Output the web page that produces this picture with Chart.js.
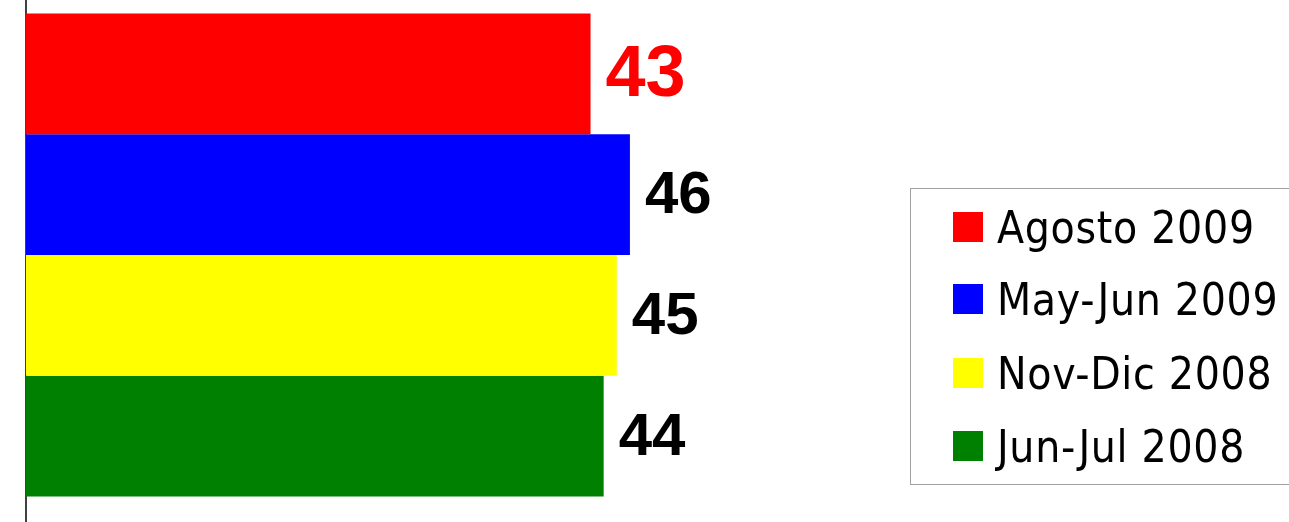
<!DOCTYPE html>
<html>
<head>
<meta charset="utf-8">
<script src="https://cdn.jsdelivr.net/npm/chart.js@4/dist/chart.umd.min.js"></script>
<style>
  html, body { margin: 0; padding: 0; background: #fff; overflow: hidden; }
  #wrap { position: relative; width: 1289px; height: 522px; overflow: hidden; }
  #chart-area { position: absolute; left: 0; top: -12px; }
  #legend {
    position: absolute; left: 910px; top: 188px; width: 420px; height: 297px;
    border: 1px solid #a0a0a0; box-sizing: border-box;
    font-family: 'DejaVu Sans Condensed', 'DejaVu Sans', sans-serif; font-stretch: condensed;
    font-size: 44px; letter-spacing: 0.7px; color: #000;
  }
  #legend .row { position: absolute; left: 42px; height: 30px; display: flex; align-items: center; white-space: nowrap; }
  #legend .box { width: 30px; height: 30px; margin-right: 14px; flex: none; }
</style>
</head>
<body>
<div id="wrap">
  <canvas id="chart-area" width="1289" height="534"></canvas>
  <div id="legend"></div>
</div>
<script>
var periods = ['Agosto 2009', 'May-Jun 2009', 'Nov-Dic 2008', 'Jun-Jul 2008'];
var values = [43, 46, 45, 44];
var colors = ['#ff0000', '#0000ff', '#ffff00', '#008000'];
var labelColors = ['#ff0000', '#000000', '#000000', '#000000'];
var labelSizes = [72, 60, 60, 60];

// value labels at the end of each bar
var valueLabels = {
  id: 'valueLabels',
  afterDatasetsDraw: function(chart) {
    var ctx = chart.ctx;
    ctx.save();
    chart.data.datasets.forEach(function(ds, i) {
      var bar = chart.getDatasetMeta(i).data[0];
      ctx.font = 'bold ' + labelSizes[i] + 'px "Liberation Sans", Arial, sans-serif';
      ctx.fillStyle = labelColors[i];
      ctx.textAlign = 'left';
      ctx.textBaseline = 'middle';
      ctx.fillText(String(ds.data[0]), bar.x + 15, bar.y + 2);
    });
    ctx.restore();
  }
};

var config = {
  type: 'bar',
  data: {
    labels: [''],
    datasets: periods.map(function(p, i) {
      return {
        label: p,
        data: [values[i]],
        backgroundColor: colors[i],
        borderWidth: 0,
        barPercentage: 1,
        categoryPercentage: 0.9045
      };
    })
  },
  options: {
    indexAxis: 'y',
    responsive: false,
    animation: false,
    layout: { padding: { left: 26, right: 0, top: 0, bottom: 0 } },
    plugins: { legend: { display: false }, tooltip: { enabled: false } },
    scales: {
      x: { display: false, min: 0, max: 96.2 },
      y: {
        grid: { display: false, drawTicks: false },
        ticks: { display: false },
        border: { display: true, color: '#404040', width: 2 }
      }
    }
  },
  plugins: [valueLabels]
};

var ctx = document.getElementById('chart-area').getContext('2d');
window.myBar = new Chart(ctx, config);

// legend rows
var legend = document.getElementById('legend');
var rowTops = [23, 95, 169, 242];
periods.forEach(function(p, i) {
  var row = document.createElement('div');
  row.className = 'row';
  row.style.top = rowTops[i] + 'px';
  row.innerHTML = '<span class="box" style="background:' + colors[i] + '"></span><span>' + p + '</span>';
  legend.appendChild(row);
});
</script>
</body>
</html>
